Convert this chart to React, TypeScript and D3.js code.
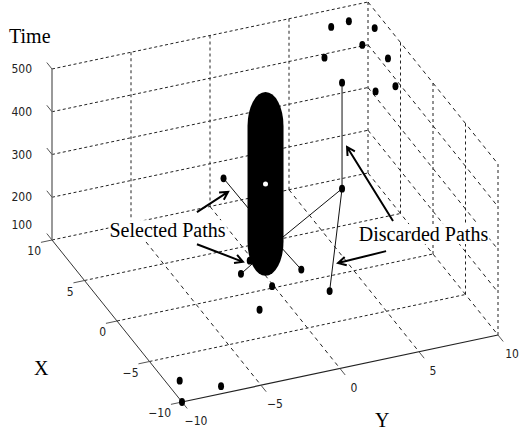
import { useLayoutEffect, useRef, useState } from 'react';
import * as d3 from 'd3';

const TIME_TICKS = [100, 200, 300, 400, 500];
const X_TICKS = [10, 5, 0, -5, -10];
const Y_TICKS = [-10, -5, 0, 5, 10];

// path nodes: [id, x, y, time]
const NODES: [string, number, number, number][] = [
  ['S', 0, 0.1, 205],
  ['A', 5, -1.2, 270],
  ['J', 5, 6.3, 187],
  ['JT', 5, 6.3, 435],
  ['D1', -1.6, 2.8, 100],
  ['B', 1.3, 2.2, 100],
  ['C', 2.2, -1.25, 100],
  ['E', 3.4, -0.2, 100],
  ['O', 0.2, -0.1, 100],
  ['F', -2, -1.8, 100],
  ['G', -7.7, -9.2, 100],
  ['H', -9.2, -7.2, 100],
  ['K', -10, -10, 100],
];

// nodes far up in time (near the top of the box)
const LATE_NODES: [string, number, number, number][] = [
  ['L1', 9.1, 7.3, 480],
  ['L2', 9.3, 8.5, 480],
  ['L3', 8.0, 9.6, 480],
  ['L4', 6.5, 8.2, 480],
  ['L5', 6.0, 5.6, 480],
  ['L6', 4.5, 9.0, 480],
  ['L7', 1.3, 6.9, 480],
  ['L8', 1.4, 8.2, 480],
];

const SELECTED_EDGES = [['S', 'A'], ['S', 'C'], ['S', 'B']];
const DISCARDED_EDGES = [['S', 'J'], ['J', 'JT'], ['J', 'D1']];

// time window of the current position
const WINDOW = { x: 0, y: -0.6, from: 132, to: 562 };

type P3 = [number, number, number];
const ANNOTATIONS: { label: string; at: P3; arrows: [P3, P3][] }[] = [
  {
    label: 'Selected Paths',
    at: [0, -6.8, 271],
    arrows: [
      [[0, -4.94, 315], [0, -2.97, 347]],
      [[0, -4.94, 240], [0, -2.03, 176]],
    ],
  },
  {
    label: 'Discarded Paths',
    at: [0, 9.4, 135],
    arrows: [
      [[0, 7.47, 197], [0, 4.56, 393]],
      [[0, 7.03, 130], [0, 3.99, 126]],
    ],
  },
];

const W = 519;
const H = 434;
const ORIGIN = [52, 240]; // screen point of x=10, y=-10, t=100
const EX = [130, 162]; // x from 10 to -10
const EY = [316, -67]; // y from -10 to 10
const ET = [0, -171]; // time from 100 to 500

const SERIF = '"Liberation Serif", "Times New Roman", Times, serif';
const SANS = '"Liberation Sans Narrow", "Arial Narrow", "DejaVu Sans Condensed", "Liberation Sans", Arial, sans-serif';

const sx = d3.scaleLinear().domain([10, -10]).range([0, 1]);
const sy = d3.scaleLinear().domain([-10, 10]).range([0, 1]);
const st = d3.scaleLinear().domain([100, 500]).range([0, 1]);

const proj = (x: number, y: number, t: number): [number, number] => [
  ORIGIN[0] + sx(x) * EX[0] + sy(y) * EY[0] + st(t) * ET[0],
  ORIGIN[1] + sx(x) * EX[1] + sy(y) * EY[1] + st(t) * ET[1],
];

const line = d3.line();

function arrowPath(a: [number, number], b: [number, number]) {
  const ang = Math.atan2(b[1] - a[1], b[0] - a[0]);
  const len = 9;
  const spread = 0.5;
  const b1: [number, number] = [b[0] - len * Math.cos(ang - spread), b[1] - len * Math.sin(ang - spread)];
  const b2: [number, number] = [b[0] - len * Math.cos(ang + spread), b[1] - len * Math.sin(ang + spread)];
  return `${line([a, b])}${line([b1, b, b2])}`;
}

export default function App() {
  const labelRefs = useRef<(SVGTextElement | null)[]>([]);
  const [boxes, setBoxes] = useState<DOMRect[]>([]);

  useLayoutEffect(() => {
    setBoxes(labelRefs.current.map((el) => el!.getBBox()));
  }, []);

  const byId = new Map([...NODES, ...LATE_NODES].map((n) => [n[0], n]));
  const pt = (id: string) => {
    const n = byId.get(id)!;
    return proj(n[1], n[2], n[3]);
  };

  // grid segments: [from, to, dash]
  const grid: [P3, P3, string][] = [];
  for (const t of TIME_TICKS) {
    grid.push([[10, -10, t], [10, 10, t], '3,2.5']);
    grid.push([[10, 10, t], [-10, 10, t], '4,4']);
  }
  for (const y of Y_TICKS.filter((v) => v !== -10)) grid.push([[10, y, 100], [10, y, 500], '3,3']);
  for (const x of X_TICKS.filter((v) => v !== 10)) grid.push([[x, 10, 100], [x, 10, 500], '3,3']);
  for (const x of X_TICKS.filter((v) => v !== 10 && v !== -10)) grid.push([[x, -10, 100], [x, 10, 100], '3,2.5']);
  for (const y of Y_TICKS.filter((v) => v !== 10 && v !== -10)) grid.push([[10, y, 100], [-10, y, 100], '4,4']);

  const [cx, yTop] = proj(WINDOW.x, WINDOW.y, WINDOW.to);
  const [, yBot] = proj(WINDOW.x, WINDOW.y, WINDOW.from);
  const mid = proj(WINDOW.x, WINDOW.y, (WINDOW.from + WINDOW.to) / 2);
  const HW = 18;
  const CAP = 34;
  const capsule = `M${cx - HW},${yTop + CAP} A${HW},${CAP} 0 0 1 ${cx + HW},${yTop + CAP} L${cx + HW},${yBot - CAP} A${HW},${CAP} 0 0 1 ${cx - HW},${yBot - CAP} Z`;

  return (
    <svg width={W} height={H} style={{ position: 'absolute', left: 0, top: 0, background: '#fff' }}>
      {/* grid */}
      <g fill="none" stroke="#222" strokeWidth={1}>
        {grid.map(([a, b, dash], i) => (
          <path key={i} d={line([proj(...a), proj(...b)])!} strokeDasharray={dash} />
        ))}
      </g>

      {/* axes */}
      <path d={line([proj(10, -10, 100), proj(10, -10, 500)])!} stroke="#777" strokeWidth={1.5} />
      <path d={line([proj(10, -10, 100), proj(-10, -10, 100)])!} stroke="#333" strokeWidth={1} />
      <path d={line([proj(-10, -10, 100), proj(-10, 10, 100)])!} stroke="#222" strokeWidth={1.2} />

      <g stroke="#555" strokeWidth={1}>
        {TIME_TICKS.map((t) => (
          <path key={t} d={line([proj(10, -10, t), proj(10.8, -10, t)])!} />
        ))}
        {X_TICKS.map((x) => (
          <path key={x} d={line([proj(x, -10, 100), proj(x, -10.7, 100)])!} />
        ))}
        {Y_TICKS.map((y) => (
          <path key={y} d={line([proj(-10, y, 100), proj(-10.8, y, 100)])!} />
        ))}
      </g>

      <g fontFamily={SANS} fontSize={12} fill="#222">
        {TIME_TICKS.map((t, i) => {
          const [px, py] = proj(10, -10, t);
          return (
            <text key={t} x={px - 20} y={py + (i === 0 ? -11 : 4)} textAnchor="end">
              {t}
            </text>
          );
        })}
        {X_TICKS.map((x) => {
          const [px, py] = proj(x, -10, 100);
          return (
            <text key={x} x={px - 11} y={py + 15} textAnchor="end">
              {x < 0 ? `\u2212${-x}` : x}
            </text>
          );
        })}
        {Y_TICKS.map((y) => {
          const [px, py] = proj(-10, y, 100);
          return (
            <text key={y} x={px + 14} y={py + 23} textAnchor="middle">
              {y < 0 ? `\u2212${-y}` : y}
            </text>
          );
        })}
      </g>

      <g fontFamily={SERIF} fontSize={20} fill="#000">
        <text x={9} y={43}>Time</text>
        <text x={34} y={375}>X</text>
        <text x={375} y={427}>Y</text>
      </g>

      {/* paths */}
      <g stroke="#111" strokeWidth={1}>
        {[...SELECTED_EDGES, ...DISCARDED_EDGES].map(([a, b]) => (
          <path key={a + b} d={line([pt(a), pt(b)])!} />
        ))}
      </g>

      {/* nodes */}
      <g fill="#000">
        {[...NODES, ...LATE_NODES].map((n) => {
          const [px, py] = proj(n[1], n[2], n[3]);
          return <ellipse key={n[0]} cx={px} cy={py} rx={3} ry={3.9} />;
        })}
      </g>

      {/* time window */}
      <path d={capsule} fill="#000" />
      <circle cx={mid[0]} cy={mid[1]} r={2.5} fill="#fff" />

      {/* annotations */}
      {ANNOTATIONS.map((a, i) => {
        const [px, py] = proj(...a.at);
        const box = boxes[i];
        return (
          <g key={a.label}>
            {box && <rect x={box.x - 1} y={box.y + 1} width={box.width + 2} height={box.height - 2} fill="#fff" />}
            <text
              ref={(el) => {
                labelRefs.current[i] = el;
              }}
              x={px}
              y={py}
              textAnchor="middle"
              fontFamily={SERIF}
              fontSize={20}
            >
              {a.label}
            </text>
            {a.arrows.map(([from, to], j) => (
              <path key={j} d={arrowPath(proj(...from), proj(...to))} fill="none" stroke="#000" strokeWidth={2} />
            ))}
          </g>
        );
      })}
    </svg>
  );
}
